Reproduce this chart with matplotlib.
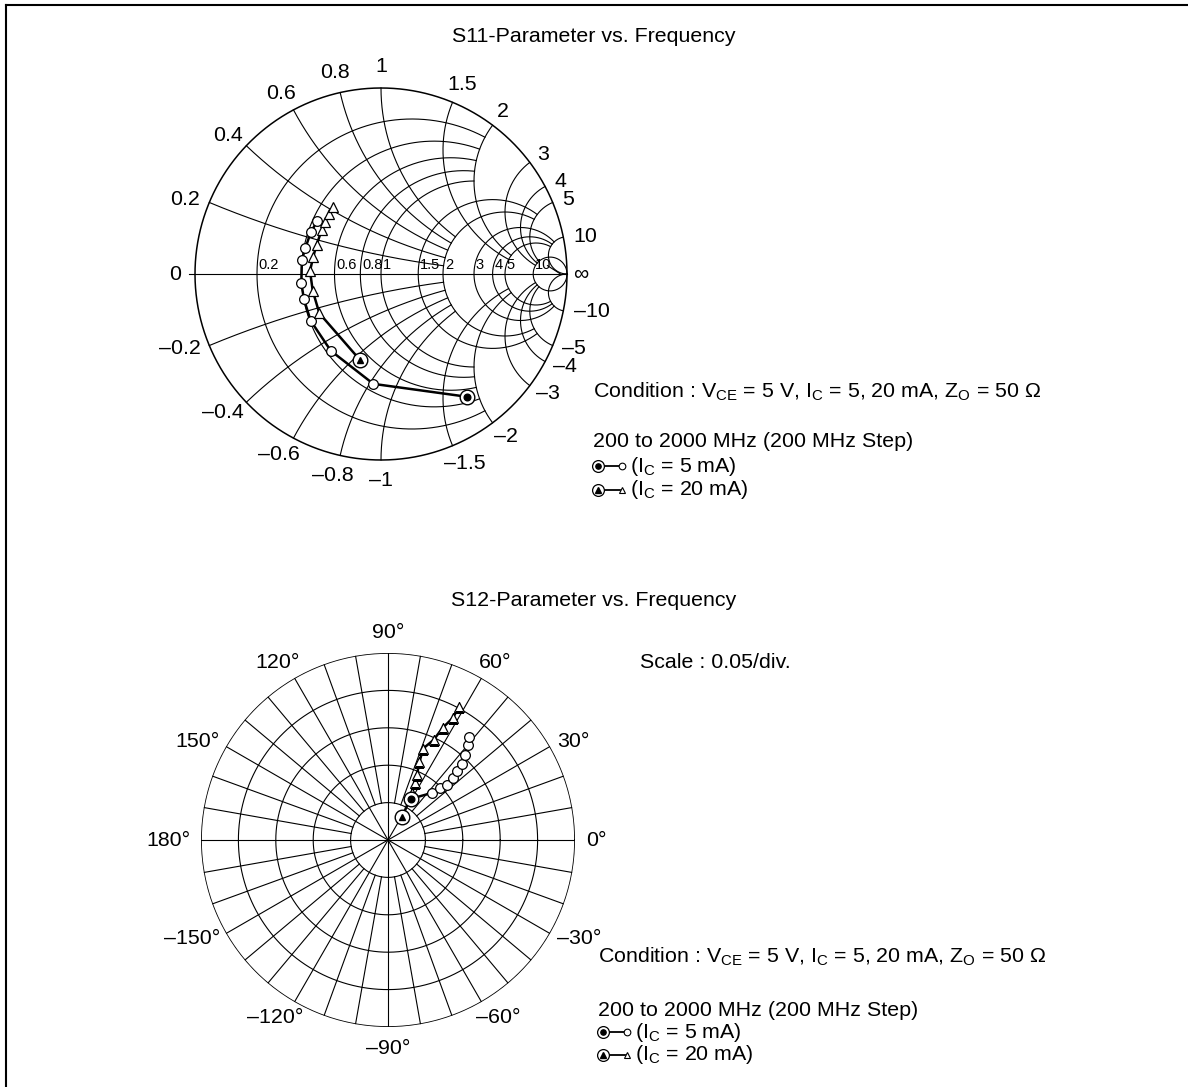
import numpy as np
import matplotlib
matplotlib.use("Agg")
import matplotlib.pyplot as plt
from matplotlib.lines import Line2D

plt.rcParams["font.family"] = ["Liberation Sans", "DejaVu Sans"]
plt.rcParams["mathtext.fontset"] = "custom"
plt.rcParams["mathtext.rm"] = "Liberation Sans"

# S11 (magnitude, angle in deg), 200 .. 2000 MHz in 200 MHz steps
s11_5ma_mag = [0.807, 0.592, 0.493, 0.454, 0.436, 0.431, 0.432, 0.430, 0.439, 0.446]
s11_5ma_ang = [-54.9, -94.0, -123.2, -146.4, -161.8, -173.3, 170.0, 161.3, 149.4, 140.0]
s11_20ma_mag = [0.476, 0.393, 0.378, 0.382, 0.376, 0.380, 0.397, 0.411, 0.425, 0.443]
s11_20ma_ang = [-103.7, -147.5, -166.1, 177.6, 165.7, 155.7, 143.4, 137.5, 130.9, 125.3]

# S12
s12_5ma_mag = [0.063, 0.086, 0.098, 0.107, 0.120, 0.131, 0.142, 0.153, 0.166, 0.175]
s12_5ma_ang = [61, 47, 45, 43, 44, 45, 46, 48, 50, 52]
s12_20ma_mag = [0.036, 0.070, 0.084, 0.095, 0.112, 0.131, 0.147, 0.167, 0.185, 0.201]
s12_20ma_ang = [58, 63, 65, 66, 68, 69, 65.5, 64, 62, 62]

smith_r = [0.2, 0.4, 0.6, 0.8, 1, 1.5, 2, 3, 4, 5, 10]
smith_r_labels = ["0.2", "", "0.6", "0.8", "1", "1.5", "2", "3", "4", "5", "10"]
smith_x_labels = ["0.2", "0.4", "0.6", "0.8", "1", "1.5", "2", "3", "4", "5", "10"]
# truncation: r circles drawn for |x| <= limit, x arcs for r <= limit (None = full)
r_circle_xlim = [2, 2, 2, 2, 2, 5, 5, 10, 10, 10, None]
x_arc_rlim = [2, 2, 2, 2, 2, 5, 5, 10, 10, 10, None]

polar_angles = [90, 60, 30, 0, -30, -60, -90, -120, -150, 180, 150, 120]

W, H = 1188, 1087
fig = plt.figure(figsize=(W / 100, H / 100), dpi=100)
renderer = fig.canvas.get_renderer()

FS = 15.4
LW = 0.8


def box_axes(cx, cy, r, **kw):
    return fig.add_axes([(cx - r) / W, 1 - (cy + r) / H, 2 * r / W, 2 * r / H], **kw)


def gamma(z):
    return (z - 1) / (z + 1)


def ride(vmax):
    big = 1e4 if vmax is None else vmax
    return np.concatenate([[0], np.geomspace(1e-3, big, 600)])


def rim_label(ax, xy, ang, text, gap=11):
    # label centre sits outside the rim; sideways by half its width,
    # upwards/downwards more strongly near the top and bottom
    lab = ax.annotate(text, xy, xytext=(0, 0), textcoords="offset points",
                      fontsize=FS, ha="center", va="center",
                      annotation_clip=False)
    hw = lab.get_window_extent(renderer).width / 2
    c, s = np.cos(ang), np.sin(ang)
    dx = c * (gap + hw)
    dy = 21 * s * abs(s)
    lab.set_position((dx * 0.72, dy * 0.72))


# ---- Smith chart ----
ax = box_axes(381, 274, 186)
ax.set_xlim(-1, 1)
ax.set_ylim(-1, 1)
ax.set_aspect("equal")
ax.axis("off")

t = np.linspace(0, 2 * np.pi, 720)
ax.plot(np.cos(t), np.sin(t), color="black", lw=1.1, clip_on=False)
ax.plot([-1.03, 1], [0, 0], color="black", lw=LW, clip_on=False)

for r, xl in zip(smith_r, r_circle_xlim):
    xs = ride(xl)
    xs = np.concatenate([-xs[::-1], xs])
    g = gamma(r + 1j * xs)
    ax.plot(g.real, g.imag, color="black", lw=LW, clip_on=False)

for x, rl in zip(smith_r, x_arc_rlim):
    rs = ride(rl)
    for sgn in (1, -1):
        g = gamma(rs + 1j * sgn * x)
        ax.plot(g.real, g.imag, color="black", lw=LW, clip_on=False)

# labels along the real axis
for r, lab in zip(smith_r, smith_r_labels):
    if lab:
        ax.text((r - 1) / (r + 1) + 0.01, 0.012, lab, fontsize=10.5,
                ha="left", va="bottom")
ax.plot([0.895, 0.965], [0.045, 0.0], color="black", lw=LW)

# reactance labels round the rim
for x, lab in zip(smith_r, smith_x_labels):
    for sgn in (1, -1):
        g = gamma(1j * sgn * x)
        text = lab if sgn > 0 else "\u2013" + lab
        rim_label(ax, (g.real, g.imag), np.angle(g), text)
rim_label(ax, (-1, 0), np.pi, "0", 14)
rim_label(ax, (1, 0), 0.0, "\u221e", 6)


def bullseye(ax, x, y, inner):
    ax.plot(x, y, marker="o", ms=10.5, mfc="white", mec="black", mew=1.0,
            zorder=5, clip_on=False)
    ax.plot(x, y, marker=inner, ms=4.8, color="black", zorder=6, clip_on=False)


for mag, ang, mk in ((s11_5ma_mag, s11_5ma_ang, "o"),
                     (s11_20ma_mag, s11_20ma_ang, "^")):
    g = np.array(mag) * np.exp(1j * np.radians(ang))
    ax.plot(g.real, g.imag, color="black", lw=1.8, zorder=3)
    ax.plot(g.real[1:], g.imag[1:], ls="none", marker=mk, ms=7,
            mfc="white", mec="black", mew=0.9, zorder=4)
    bullseye(ax, g.real[0], g.imag[0], mk)

# ---- polar chart ----
pax = box_axes(388, 840, 187, projection="polar")
pax.set_ylim(0, 0.25)
pax.axis("off")

th = np.linspace(0, 2 * np.pi, 720)
for k in range(1, 6):
    pax.plot(th, np.full_like(th, 0.05 * k), color="black",
             lw=1.2 if k == 5 else LW)
for a in range(0, 360, 10):
    r0 = 0 if a % 30 == 0 else 0.05
    pax.plot([np.radians(a)] * 2, [r0, 0.25], color="black", lw=LW)

for a in polar_angles:
    lab = ("\u2013%d\u00b0" % -a) if a < 0 else "%d\u00b0" % a
    rim_label(pax, (np.radians(a), 0.25), np.radians(a), lab)

for mag, ang, mk in ((s12_5ma_mag, s12_5ma_ang, "o"),
                     (s12_20ma_mag, s12_20ma_ang, "^")):
    th_d = np.radians(ang)
    pax.plot(th_d, mag, color="black", lw=1.8, zorder=3)
    pax.plot(th_d[1:], mag[1:], ls="none", marker=mk, ms=7,
             mfc="white", mec="black", mew=0.9, zorder=4)
    bullseye(pax, th_d[0], mag[0], mk)

# ---- texts ----
def ptext(x, y, s, **kw):
    fig.text(x / W, 1 - y / H, s, fontsize=FS, **kw)


cond = (r"Condition : V$_{\mathrm{CE}}$ = 5 V, I$_{\mathrm{C}}$ = 5, 20 mA, "
        r"Z$_{\mathrm{O}}$ = 50 $\Omega$")

ptext(594, 36, "S11-Parameter vs. Frequency", ha="center", va="center")
ptext(594, 600, "S12-Parameter vs. Frequency", ha="center", va="center")
ptext(640, 662, "Scale : 0.05/div.", ha="left", va="center")


def legend_block(x0, y_cond, y_freq, y1, y2):
    ptext(x0, y_cond, cond, ha="left", va="center")
    ptext(x0, y_freq, "200 to 2000 MHz (200 MHz Step)", ha="left", va="center")
    for yy, mk, lab in ((y1, "o", r"(I$_{\mathrm{C}}$ = 5 mA)"),
                        (y2, "^", r"(I$_{\mathrm{C}}$ = 20 mA)")):
        fy = 1 - yy / H
        fig.add_artist(Line2D([(x0 + 5) / W, (x0 + 27) / W], [fy, fy],
                              color="black", lw=1.3))
        fig.add_artist(Line2D([(x0 + 5) / W], [fy], marker="o", ms=8.5,
                              mfc="white", mec="black", mew=0.9))
        fig.add_artist(Line2D([(x0 + 5) / W], [fy], marker=mk, ms=3.8,
                              color="black"))
        fig.add_artist(Line2D([(x0 + 29) / W], [fy], marker=mk, ms=4.8,
                              mfc="white", mec="black", mew=0.8))
        ptext(x0 + 37, yy, lab, ha="left", va="center")


legend_block(593, 392, 441, 466, 490)
legend_block(598, 957, 1010, 1032, 1055)

# frame on the top and left edges
fig.add_artist(Line2D([6 / W, 1], [1 - 5 / H, 1 - 5 / H], color="black", lw=1.5))
fig.add_artist(Line2D([6 / W, 6 / W], [0, 1 - 5 / H], color="black", lw=1.5))

fig.savefig("out.png", dpi=100, facecolor="white")
